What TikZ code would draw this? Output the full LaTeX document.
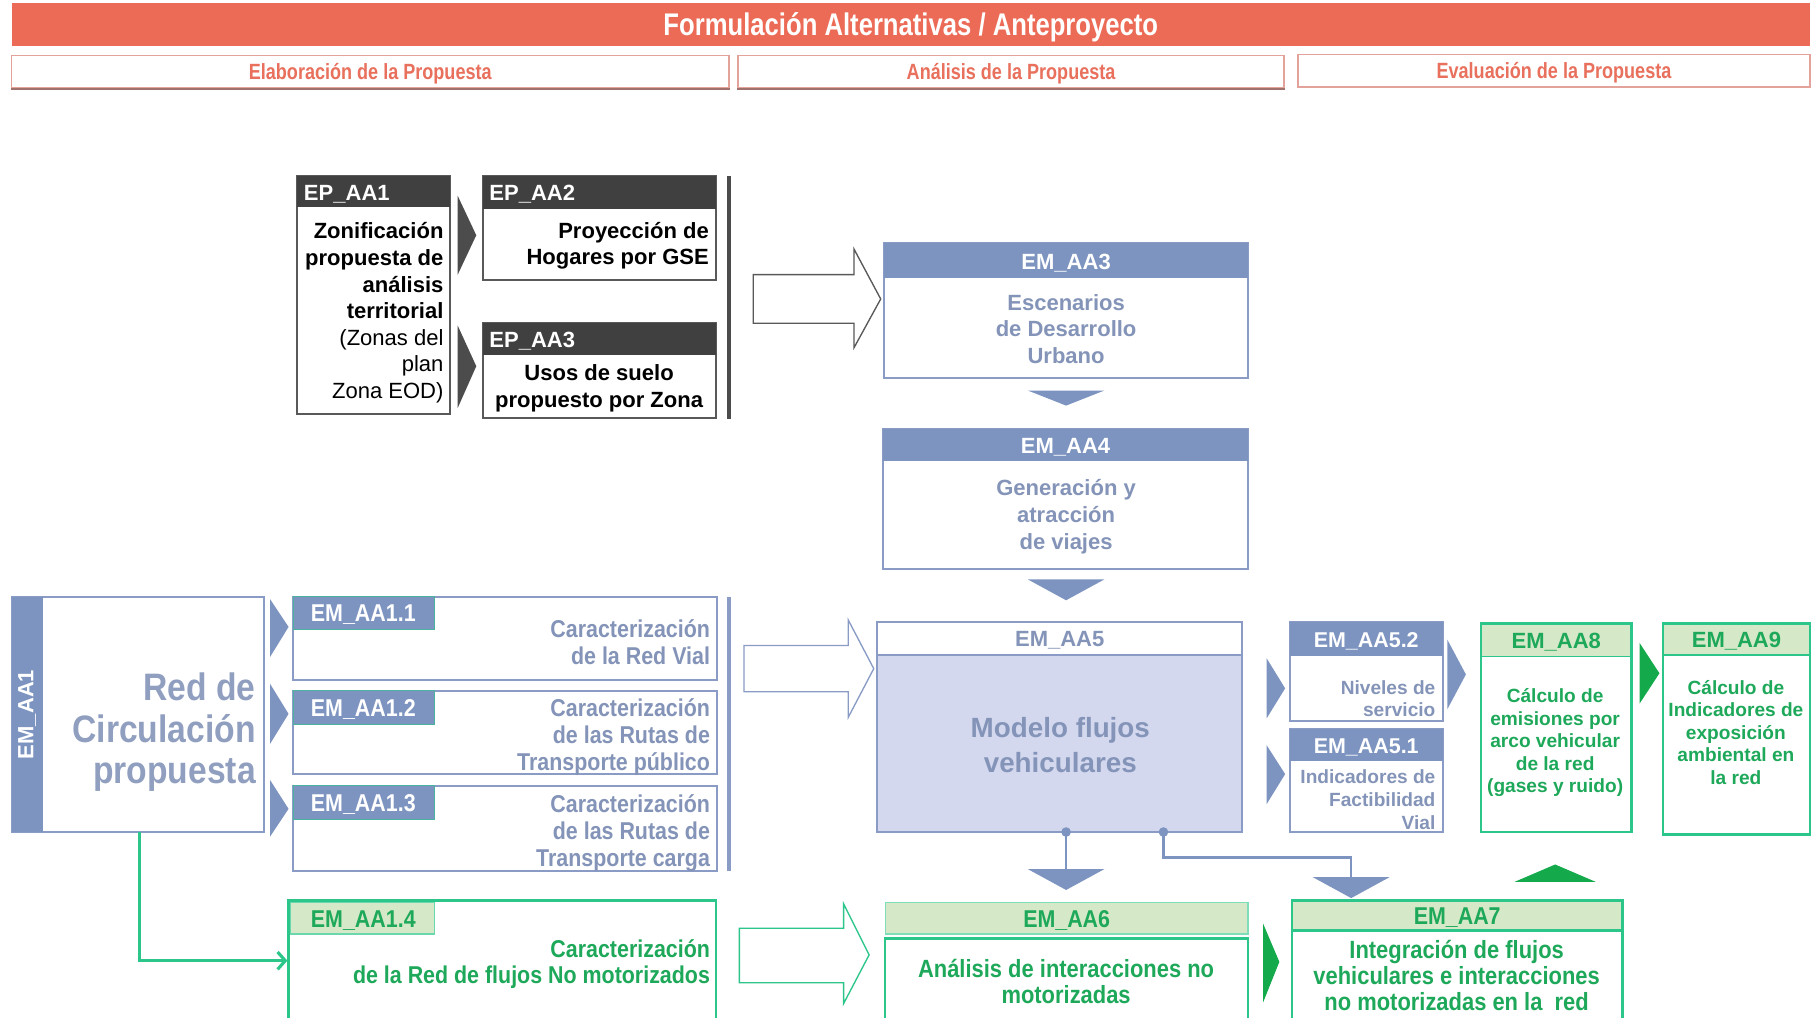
\documentclass[tikz,border=0pt]{standalone}
\usepackage{fontspec}
\setmainfont{Liberation Sans}
\newfontfamily\nar[FakeStretch=0.88]{Liberation Sans}
\newfontfamily\narr[FakeStretch=0.82]{Liberation Sans}
\usetikzlibrary{fit,arrows.meta}
\definecolor{titred}{HTML}{EC6B56}
\definecolor{subred}{HTML}{E8705C}
\definecolor{subline}{HTML}{E3A39A}
\definecolor{dgrey}{HTML}{404040}
\definecolor{sblue}{HTML}{7D94C0}
\definecolor{bline}{HTML}{8A9CC6}
\definecolor{btext}{HTML}{8494B8}
\definecolor{lav}{HTML}{D3D8EE}
\definecolor{gline}{HTML}{2CC68A}
\definecolor{gtext}{HTML}{1EA85A}
\definecolor{gfill}{HTML}{D5E9C8}
\definecolor{gdark}{HTML}{14AA4C}
\newcommand\fsz[2]{\fontsize{#1}{#2}\selectfont}
\begin{document}
\begin{tikzpicture}[x=0.6pt,y=-0.6pt,
  bx/.style={inner sep=0pt},
  txt/.style={inner sep=0pt, yshift=-1.2pt},
  hdr/.style={inner sep=0pt, yshift=-1pt, font=\bfseries\fsz{11.4pt}{13.8pt}},
  nhdr/.style={inner sep=0pt, yshift=-1pt, font=\nar\bfseries\fsz{12.6pt}{13.8pt}},
  epbox/.style={bx, draw=black!65, fill=white, line width=1pt},
  bbox/.style={bx, draw=bline, fill=white, line width=1pt},
  gbox/.style={bx, draw=gline, fill=white, line width=1.2pt},
  hollow/.style={fill=white, line width=0.7pt}]
\clip (0,0) rectangle (1568,878);
\fill[white] (0,0) rectangle (1568,878);

% ---------- title and sub headers
\node[bx, fill=titred, fit={(10,3)(1562,40)}] (title) {};
\node[txt, text=white, font=\narr\bfseries\fsz{16.2pt}{18pt}] (titletxt) at (title.center) {Formulación Alternativas / Anteproyecto};
\node[bx, draw=subline, fill=white, line width=0.8pt, fit={(10,48)(629,76)}] (sh1) {};
\node[bx, draw=subline, fill=white, line width=0.8pt, fit={(637,48)(1108,76)}] (sh2) {};
\node[bx, draw=subline, fill=white, line width=0.8pt, fit={(1120,47)(1562,75)}] (sh3) {};
\draw[subline!70!black, line width=1pt] (sh1.south west) -- (sh1.south east);
\draw[subline!70!black, line width=1pt] (sh2.south west) -- (sh2.south east);
\foreach \s/\t in {sh1/Elaboración de la Propuesta, sh2/Análisis de la Propuesta, sh3/Evaluación de la Propuesta}
  \node[txt, text=subred, font=\narr\bfseries\fsz{11.4pt}{12pt}] at (\s.center) {\t};

% ---------- EP group
\node[epbox, fit={(256,152)(388,357)}] (ep1) {};
\node[bx, fill=dgrey, fit={(256,152)(388,179)}] (ep1h) {};
\node[hdr, text=white, anchor=west] at (262,166) {EP\_AA1};
\node[txt, align=right, anchor=east, font=\fsz{11.4pt}{13.8pt}] (ep1t) at (383,268)
 {\textbf{Zonificación}\\\textbf{propuesta de}\\\textbf{análisis}\\\textbf{territorial}\\(Zonas del\\plan\\Zona EOD)};

\node[epbox, fit={(417,152)(618,242)}] (ep2) {};
\node[bx, fill=dgrey, fit={(417,152)(618,180)}] (ep2h) {};
\node[hdr, text=white, anchor=west] at (422,166) {EP\_AA2};
\node[txt, align=right, anchor=east, font=\bfseries\fsz{11.4pt}{13.8pt}] (ep2t) at (612,210) {Proyección de\\Hogares por GSE};

\node[epbox, fit={(417,279)(618,361)}] (ep3) {};
\node[bx, fill=dgrey, fit={(417,279)(618,306)}] (ep3h) {};
\node[hdr, text=white, anchor=west] at (422,293) {EP\_AA3};
\node[txt, align=center, font=\bfseries\fsz{11.4pt}{13.8pt}] (ep3t) at (517,333) {Usos de suelo\\propuesto por Zona};

\fill[black!70] (395,169) -- (395,237) -- (411,203) -- cycle;
\fill[black!70] (395,281) -- (395,352) -- (411,316) -- cycle;
\draw[black!70, line width=1.8pt] (629,152) -- (629,362);

\draw[hollow, draw=black!65] (650,237) -- (737,237) -- (737,215) -- (760,258) -- (737,300) -- (737,279) -- (650,279) -- cycle;

% ---------- EM_AA3 / AA4
\node[bbox, fit={(763,210)(1077,326)}] (em3) {};
\node[bx, fill=sblue, fit={(763,210)(1077,240)}] (em3h) {};
\node[hdr, text=white] at (em3h.center) {EM\_AA3};
\node[txt, align=center, text=btext, font=\bfseries\fsz{11.4pt}{13.8pt}] at (920,282) {Escenarios\\de Desarrollo\\Urbano};
\fill[sblue] (887,337) -- (953,337) -- (920,350) -- cycle;

\node[bbox, fit={(762,370)(1077,491)}] (em4) {};
\node[bx, fill=sblue, fit={(762,370)(1077,398)}] (em4h) {};
\node[hdr, text=white] at (em4h.center) {EM\_AA4};
\node[txt, align=center, text=btext, font=\bfseries\fsz{11.4pt}{13.8pt}] at (920,444) {Generación y\\atracción\\de viajes};
\fill[sblue] (887,500) -- (953,500) -- (920,518) -- cycle;

% ---------- EM_AA5
\node[bx, draw=bline, fill=lav, line width=1pt, fit={(757,537)(1072,718)}] (em5) {};
\node[bx, draw=bline, fill=white, line width=0.8pt, fit={(757,537)(1072,565)}] (em5h) {};
\node[hdr, text=btext] at (em5h.center) {EM\_AA5};
\node[txt, align=center, text=btext, font=\bfseries\fsz{14.4pt}{18pt}] at (915,641) {Modelo flujos\\vehiculares};
\draw[hollow, draw=bline] (642,557) -- (732,557) -- (732,535) -- (754,577) -- (732,619) -- (732,597) -- (642,597) -- cycle;

% ---------- EM_AA1 block
\node[bx, draw=bline, fill=white, line width=1pt, fit={(10,515)(228,718)}] (em1) {};
\node[bx, fill=sblue, fit={(10,515)(37,718)}] (em1s) {};
\node[inner sep=0pt, font=\bfseries\fsz{11.4pt}{13.8pt}, text=white, rotate=90] at (em1s.center) {EM\_AA1};
\node[txt, align=right, anchor=east, text=btext!90, font=\nar\bfseries\fsz{19.8pt}{21.6pt}] at (221,630) {Red de\\Circulación\\propuesta};

\fill[sblue] (233,517) -- (233,567) -- (249,541) -- cycle;
\fill[sblue] (233,590) -- (233,642) -- (249,616) -- cycle;
\fill[sblue] (233,673) -- (233,722) -- (249,698) -- cycle;

\node[bbox, fit={(253,515)(619,587)}] (em11) {};
\node[bx, fill=sblue, draw=gline!60!sblue, line width=0.6pt, fit={(253,515)(375,543)}] (em11h) {};
\node[nhdr, text=white, anchor=west] at (268,529) {EM\_AA1.1};
\node[txt, align=right, anchor=east, text=btext, font=\nar\bfseries\fsz{12.6pt}{13.8pt}] at (613,552) {Caracterización\\de la Red Vial};

\node[bbox, fit={(253,596)(619,668)}] (em12) {};
\node[bx, fill=sblue, draw=gline!60!sblue, line width=0.6pt, fit={(253,596)(375,625)}] (em12h) {};
\node[nhdr, text=white, anchor=west] at (268,610.5) {EM\_AA1.2};
\node[txt, align=right, anchor=east, text=btext, font=\nar\bfseries\fsz{12.6pt}{13.8pt}] at (613,634) {Caracterización\\de las Rutas de\\Transporte público};

\node[bbox, fit={(253,678)(619,752)}] (em13) {};
\node[bx, fill=sblue, draw=gline!60!sblue, line width=0.6pt, fit={(253,678)(375,707)}] (em13h) {};
\node[nhdr, text=white, anchor=west] at (268,692.5) {EM\_AA1.3};
\node[txt, align=right, anchor=east, text=btext, font=\nar\bfseries\fsz{12.6pt}{13.8pt}] at (613,717) {Caracterización\\de las Rutas de\\Transporte carga};

\draw[bline, line width=1.8pt] (629,515) -- (629,752);

% ---------- EM_AA1.4
\node[gbox, fit={(249,777)(618,895)}] (em14) {};
\node[bx, fill=gfill, draw=gline!70, line width=0.6pt, fit={(251,779)(375,806)}] (em14h) {};
\node[nhdr, text=gtext, anchor=west] at (268,792.5) {EM\_AA1.4};
\node[txt, align=right, anchor=east, text=gtext, font=\nar\bfseries\fsz{12.6pt}{13.8pt}] at (613,830) {Caracterización\\de la Red de flujos No motorizados};

\coordinate (g0) at (120,718);
\draw[gline, line width=1.6pt, -{Straight Barb[length=4pt,width=9pt]}] (g0) |- (em14.west |- 0,829);

\draw[hollow, draw=gline] (638,801) -- (728,801) -- (728,780) -- (750,824) -- (728,866) -- (728,848) -- (638,848) -- cycle;

% ---------- EM_AA6 / AA7
\node[bx, fill=gfill, draw=gline!60, line width=0.6pt, fit={(764,779)(1077,806)}] (em6h) {};
\node[nhdr, text=gtext] at (em6h.center) {EM\_AA6};
\node[gbox, fit={(764,810)(1077,895)}] (em6) {};
\node[txt, align=center, text=gtext, font=\nar\bfseries\fsz{12.9pt}{13.8pt}] at (920,845) {Análisis de interacciones no\\motorizadas};

\fill[gdark] (1090,797) -- (1090,865) -- (1104,830) -- cycle;

\node[gbox, fit={(1115,777)(1400,895)}] (em7) {};
\node[bx, fill=gfill, draw=gline, line width=1.2pt, fit={(1115,777)(1400,803)}] (em7h) {};
\node[nhdr, text=gtext] at (em7h.center) {EM\_AA7};
\node[txt, align=center, text=gtext, font=\nar\bfseries\fsz{12.9pt}{13.5pt}] at (1257,840) {Integración de flujos\\vehiculares e interacciones\\no motorizadas en la~ red};

% connectors from EM_AA5
\node[circle, fill=sblue, inner sep=0pt, minimum size=5pt] (d1) at (920,718) {};
\node[circle, fill=sblue, inner sep=0pt, minimum size=5pt] (d2) at (1004,718) {};
\coordinate (t1) at (920,750);
\coordinate (k2) at (1004,740);
\coordinate (t2) at (1166,757);
\draw[sblue, line width=1.3pt] (d1.center) -- (t1);
\draw[sblue, line width=1.3pt] (d2.center) -- (k2) -| (t2);
\fill[sblue] (887,750) -- (953,750) -- (920,768) -- cycle;
\fill[sblue] (1133,757) -- (1199,757) -- (1166,775) -- cycle;

% ---------- EM_AA5.2 / 5.1
\fill[sblue] (1093,568) -- (1093,620) -- (1109,594) -- cycle;
\fill[sblue] (1093,643) -- (1093,694) -- (1109,668) -- cycle;

\node[bbox, fit={(1113,537)(1245,622)}] (em52) {};
\node[bx, fill=sblue, fit={(1113,537)(1245,566)}] (em52h) {};
\node[inner sep=0pt, yshift=-1pt, font=\bfseries\fsz{11.1pt}{13pt}, text=white] at (em52h.center) {EM\_AA5.2};
\node[txt, align=right, anchor=east, text=btext, font=\bfseries\fsz{9.9pt}{11.7pt}] at (1239,601) {Niveles de\\servicio};

\node[bbox, fit={(1113,629)(1245,718)}] (em51) {};
\node[bx, fill=sblue, fit={(1113,629)(1245,657)}] (em51h) {};
\node[inner sep=0pt, yshift=-1pt, font=\bfseries\fsz{11.1pt}{13pt}, text=white] at (em51h.center) {EM\_AA5.1};
\node[txt, align=right, anchor=east, text=btext, font=\bfseries\fsz{9.9pt}{11.7pt}] at (1239,688) {Indicadores de\\Factibilidad\\Vial};

\fill[sblue] (1249,552) -- (1249,612) -- (1265,582) -- cycle;

% ---------- EM_AA8 / AA9
\node[gbox, fit={(1278,538)(1408,718)}] (em8) {};
\node[bx, fill=gfill, fit={(1279,539)(1407,566)}] (em8h) {};
\draw[gline, line width=0.8pt] (em8h.south west) -- (em8h.south east);
\node[hdr, text=gtext] at (em8h.center) {EM\_AA8};
\node[txt, align=center, text=gtext, font=\bfseries\fsz{9.9pt}{11.7pt}] at (1342,639) {Cálculo de\\emisiones por\\arco vehicular\\de la red\\(gases y ruido)};

\fill[gdark] (1415,555) -- (1415,607) -- (1432,581) -- cycle;

\node[gbox, fit={(1435,538)(1562,720)}] (em9) {};
\node[bx, fill=gfill, fit={(1436,539)(1561,565)}] (em9h) {};
\draw[gline, line width=0.8pt] (em9h.south west) -- (em9h.south east);
\node[hdr, text=gtext] at (em9h.center) {EM\_AA9};
\node[txt, align=center, text=gtext, font=\bfseries\fsz{9.9pt}{11.7pt}] at (1498,630) {Cálculo de\\Indicadores de\\exposición\\ambiental en\\la red};

\fill[gdark] (1307,761) -- (1377,761) -- (1342,746) -- cycle;
\end{tikzpicture}
\end{document}
